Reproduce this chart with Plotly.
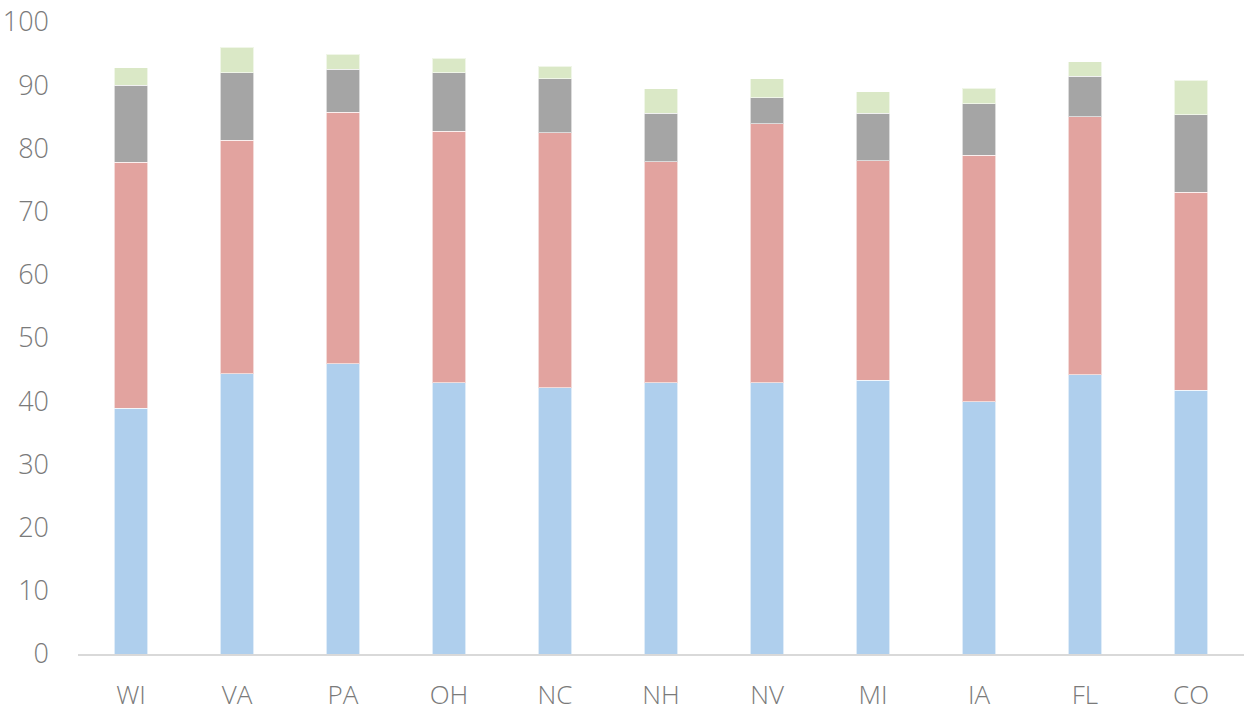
import plotly.graph_objects as go

states = ["WI", "VA", "PA", "OH", "NC", "NH", "NV", "MI", "IA", "FL", "CO"]
blue_vals = [38.9, 44.35, 45.9, 42.9, 42.1, 42.9, 42.9, 43.3, 39.9, 44.15, 41.7]
red_vals = [38.9, 36.95, 39.8, 39.85, 40.4, 34.95, 41.0, 34.75, 39.0, 40.85, 31.35]
gray_vals = [12.2, 10.7, 6.8, 9.25, 8.5, 7.7, 4.1, 7.5, 8.2, 6.4, 12.25]
green_vals = [2.8, 4.0, 2.4, 2.25, 2.0, 3.85, 3.0, 3.45, 2.45, 2.3, 5.5]
y_ticks = [0, 10, 20, 30, 40, 50, 60, 70, 80, 90, 100]

series = [
    ("Series 1", blue_vals, "#AFCFED"),
    ("Series 2", red_vals, "#E2A39F"),
    ("Series 3", gray_vals, "#A5A5A5"),
    ("Series 4", green_vals, "#DAE8C6"),
]

fig = go.Figure()
for name, vals, color in series:
    fig.add_trace(go.Bar(
        x=states, y=vals, name=name,
        marker=dict(color=color, line=dict(color="rgba(255,255,255,0.6)", width=1)),
    ))

font_family = "Open Sans"
tick_font = dict(family=font_family, size=27, color="#7a7a7a", weight=300)
x_font = dict(family=font_family, size=26, color="#7a7a7a", weight=300)
fig.update_layout(
    barmode="stack",
    bargap=0.68,
    width=1249, height=714,
    margin=dict(l=78, r=5, t=22, b=60),
    plot_bgcolor="white", paper_bgcolor="white",
    showlegend=False,
    font=tick_font,
)
fig.update_xaxes(
    showgrid=False, showline=True, linecolor="#D9D9D9", linewidth=1.5,
    ticks="", ticklabelstandoff=17, tickfont=x_font, automargin=False,
)
fig.update_yaxes(
    range=[0, 100], tickvals=y_ticks, showgrid=False, zeroline=False,
    showline=False, ticks="", ticklabelstandoff=28, tickfont=tick_font,
    automargin=False,
)
fig.write_html(
    "out.html",
    config={"displayModeBar": False},
    post_script=(
        "document.documentElement.style.margin='0';"
        "document.body.style.margin='0';"
        "document.body.style.overflow='hidden';"
    ),
)
